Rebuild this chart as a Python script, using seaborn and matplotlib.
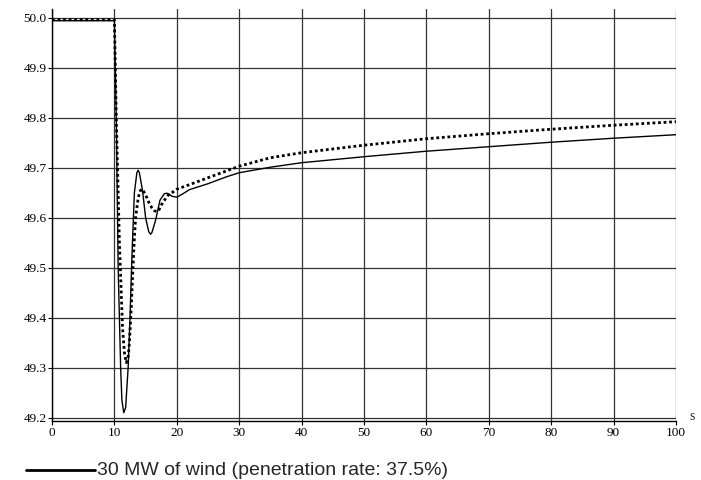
import numpy as np
import pandas as pd
import matplotlib
matplotlib.use("Agg")
import matplotlib.pyplot as plt
import seaborn as sns

# frequency response (Hz) after the disturbance at t = 10 s
t_solid = [0, 10.0, 10.3, 10.6, 11.0, 11.2, 11.5, 11.8, 12.2, 12.5, 12.8, 13.2,
           13.6, 13.8, 14.0, 14.5, 15.0, 15.5, 15.8, 16.0, 16.6, 17.3, 18.0,
           18.4, 18.8, 19.2, 20.0, 21.0, 22.0, 25.0, 28.0, 30.0, 35.0, 40.0,
           50.0, 60.0, 70.0, 80.0, 90.0, 100.0]
f_solid = [49.994, 49.994, 49.80, 49.50, 49.30, 49.235, 49.21, 49.22, 49.30,
           49.40, 49.52, 49.65, 49.69, 49.695, 49.69, 49.655, 49.60, 49.572,
           49.567, 49.570, 49.595, 49.635, 49.648, 49.649, 49.647, 49.643,
           49.641, 49.648, 49.656, 49.668, 49.682, 49.690, 49.701, 49.710,
           49.722, 49.733, 49.742, 49.751, 49.759, 49.766]

t_dot = [0, 10.0, 10.3, 10.8, 11.3, 11.6, 11.9, 12.2, 12.4, 12.7, 12.9, 13.2,
         13.4, 13.7, 14.0, 14.2, 14.5, 14.8, 15.2, 15.6, 16.0, 16.4, 16.8,
         17.2, 17.5, 17.9, 18.3, 18.6, 19.0, 20.0, 22.0, 25.0, 30.0, 35.0,
         40.0, 50.0, 60.0, 70.0, 80.0, 90.0, 100.0]
f_dot = [49.996, 49.996, 49.80, 49.55, 49.38, 49.33, 49.31, 49.32, 49.35,
         49.42, 49.48, 49.56, 49.60, 49.63, 49.65, 49.655, 49.657, 49.65,
         49.64, 49.628, 49.62, 49.614, 49.612, 49.617, 49.625, 49.633, 49.64,
         49.645, 49.648, 49.657, 49.666, 49.680, 49.703, 49.720, 49.730,
         49.745, 49.758, 49.768, 49.777, 49.785, 49.792]

legend_label = "30 MW of wind (penetration rate: 37.5%)"

sns.set_style("white")
plt.rcParams["font.family"] = ["Liberation Serif", "DejaVu Serif"]

fig = plt.figure(figsize=(7.01, 4.8), dpi=100)
ax = fig.add_axes([0.0742, 0.1229, 0.8901, 0.8583])

solid = pd.DataFrame({"t": t_solid, "f": f_solid})
dotted = pd.DataFrame({"t": t_dot, "f": f_dot})

sns.lineplot(data=solid, x="t", y="f", ax=ax, color="black", lw=1.0,
             label=legend_label, legend=False)
sns.lineplot(data=dotted, x="t", y="f", ax=ax, color="black", lw=2.0,
             linestyle=(0, (1, 1)), legend=False)

ax.set_xlim(0, 100)
ax.set_ylim(49.1934, 50.0174)
ax.set_xticks(np.arange(0, 101, 10))
ax.set_yticks(np.round(np.arange(49.2, 50.01, 0.1), 1))
ax.yaxis.set_major_formatter(matplotlib.ticker.FormatStrFormatter("%.1f"))
ax.grid(True, color="0.2", lw=0.9)
ax.set_axisbelow(True)
ax.tick_params(axis="both", direction="out", length=3, width=0.8,
               labelsize=9.5, pad=1, bottom=True, left=True, colors="black")
ax.set_xlabel("")
ax.set_ylabel("")
for side in ["top", "right"]:
    ax.spines[side].set_visible(False)
for side in ["left", "bottom"]:
    ax.spines[side].set_color("black")
    ax.spines[side].set_linewidth(1.0)

ax.text(1.022, 0.01, "s", transform=ax.transAxes, fontsize=10,
        ha="left", va="center")

# legend only lists the solid trace, line sits a little low next to the text
handles, labels = ax.get_legend_handles_labels()
leg = fig.legend(handles[:1], labels[:1], loc="center left",
                 bbox_to_anchor=(0.0293, 0.02), frameon=False,
                 handlelength=3.55, handletextpad=0.1, borderaxespad=0.0,
                 borderpad=0.3,
                 prop={"family": "Liberation Sans", "size": 14})
for line in leg.get_lines():
    line.set_linewidth(2.0)
    line.set_ydata(np.asarray(line.get_ydata()) - 1.5)

fig.savefig("out.png", dpi=100)
